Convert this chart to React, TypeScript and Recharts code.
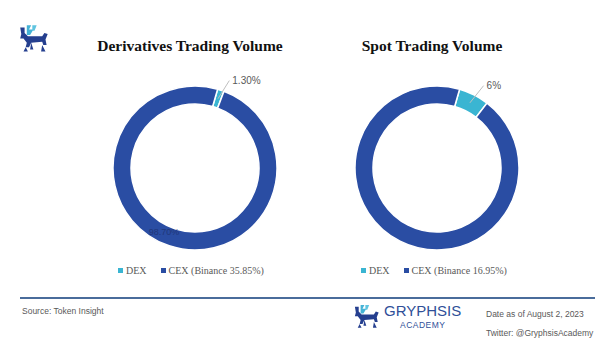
import { PieChart, Pie, Cell } from "recharts";

const CEX_BLUE = "#2a4da3";
const DEX_CYAN = "#3ab5d2";
const TEXT_GRAY = "#595959";

const sliceNames = ["DEX", "CEX"];
const derivativesShares = [1.3, 98.7];
const spotShares = [6, 94];
const derivativesLabels = ["1.30%", "98.70%"];
const spotLabels = ["6%", ""];
const chartTitles = ["Derivatives Trading Volume", "Spot Trading Volume"];
const cexLegendText = ["CEX (Binance 35.85%)", "CEX (Binance 16.95%)"];

const RADIAN = Math.PI / 180;

function toRows(values: number[], labels: string[]) {
  return values.map((v, i) => ({ name: sliceNames[i], value: v, label: labels[i] }));
}

function renderLabel(props: any) {
  const { cx, cy, midAngle, innerRadius, outerRadius, index, payload } = props;
  if (!payload.label) return null;
  const mid = (innerRadius + outerRadius) / 2;
  const cos = Math.cos(-midAngle * RADIAN);
  const sin = Math.sin(-midAngle * RADIAN);
  if (index === 1) {
    // barely visible label sitting on the dark ring
    return (
      <text x={cx + mid * cos - 8} y={cy + mid * sin - 5} fill="#1f3270" fontSize={9} fontFamily="Liberation Sans, Arial" textAnchor="middle" dominantBaseline="central" opacity={0.8}>
        {payload.label}
      </text>
    );
  }
  const sx = cx + mid * cos;
  const sy = cy + mid * sin;
  const ex = cx + (outerRadius + 8) * cos + 6;
  const ey = cy + (outerRadius + 8) * sin - 2;
  return (
    <g>
      <path d={`M${sx},${sy}L${ex},${ey}`} stroke="#bfbfbf" strokeWidth={1} fill="none" />
      <text x={ex + 3} y={ey} fill={TEXT_GRAY} fontSize={10} fontFamily="Liberation Sans, Arial" dominantBaseline="central">
        {payload.label}
      </text>
    </g>
  );
}

function Logo({ x, y, s }: { x: number; y: number; s: number }) {
  return (
    <svg style={{ position: "absolute", left: x, top: y }} width={30 * s} height={28 * s} viewBox="0 0 30 28">
      <path d="M8 2 L12 2 L10 6 L14 6 L11 11 L8 11 Z" fill="#45b3d6" />
      <path d="M13 2 L17 2 L15 7 L13 7 Z" fill="#5fc4e0" />
      <path d="M2 4 L6 4 L6 9 L9 12 L22 12 L24 9 L27 10 L25 15 L26 20 L23 20 L22 17 L12 18 L10 22 L7 22 L8 18 L5 14 L2 14 L3 10 Z" fill="#253f8f" />
      <path d="M7 22 L9 26 L5 26 Z M22 20 L25 26 L21 26 Z M12 18 L14 24 L11 24 Z" fill="#253f8f" />
    </svg>
  );
}

function Legend({ left, index }: { left: number; index: number }) {
  const item = (color: string, text: string) => (
    <span style={{ display: "inline-flex", alignItems: "center", marginRight: 14 }}>
      <span style={{ width: 5, height: 5, background: color, marginRight: 3 }} />
      {text}
    </span>
  );
  return (
    <div style={{ position: "absolute", left, top: 264, fontFamily: "Liberation Serif, serif", fontSize: 10, color: TEXT_GRAY, whiteSpace: "nowrap" }}>
      {item(DEX_CYAN, "DEX")}
      {item(CEX_BLUE, cexLegendText[index])}
    </div>
  );
}

export default function App() {
  const pies = [
    { data: toRows(derivativesShares, derivativesLabels), cx: 190 },
    { data: toRows(spotShares, spotLabels), cx: 432 },
  ];
  return (
    <div style={{ position: "fixed", left: 0, top: 0, width: 600, height: 360, background: "#fff", overflow: "hidden" }}>
      <Logo x={18} y={23} s={1.1} />
      {chartTitles.map((t, i) => (
        <div key={t} style={{ position: "absolute", left: pies[i].cx - 150, width: 300, top: 37, textAlign: "center", fontFamily: "Liberation Serif, serif", fontWeight: "bold", fontSize: 15.5, color: "#111" }}>
          {t}
        </div>
      ))}
      <div style={{ position: "absolute", left: 0, top: 0 }}>
        <PieChart width={600} height={360}>
          {pies.map((p, i) => (
            <Pie
              key={i}
              data={p.data}
              dataKey="value"
              cx={p.cx}
              cy={163}
              innerRadius={64}
              outerRadius={82}
              startAngle={74}
              endAngle={-286}
              stroke="#fff"
              strokeWidth={1.5}
              label={renderLabel}
              labelLine={false}
              isAnimationActive={false}
            >
              {p.data.map((d) => (
                <Cell key={d.name} fill={d.name === "DEX" ? DEX_CYAN : CEX_BLUE} />
              ))}
            </Pie>
          ))}
        </PieChart>
      </div>
      <Legend left={118} index={0} />
      <Legend left={361} index={1} />
      <div style={{ position: "absolute", left: 20, top: 297, width: 575, height: 2, background: "#4a6c9b" }} />
      <div style={{ position: "absolute", left: 22, top: 306, fontFamily: "Liberation Sans, Arial", fontSize: 8.5, color: TEXT_GRAY }}>
        Source: Token Insight
      </div>
      <Logo x={353} y={303} s={0.95} />
      <div style={{ position: "absolute", left: 384, top: 302, fontFamily: "Liberation Sans, Arial", fontSize: 15, color: "#2f4f98" }}>
        GRYPHSIS
      </div>
      <div style={{ position: "absolute", left: 400, top: 320, fontFamily: "Liberation Sans, Arial", fontSize: 8.5, color: "#2f4f98", letterSpacing: 0.5 }}>
        ACADEMY
      </div>
      <div style={{ position: "absolute", left: 486, top: 305, fontFamily: "Liberation Sans, Arial", fontSize: 8.5, color: TEXT_GRAY, lineHeight: "19px" }}>
        Date as of August 2, 2023
        <br />
        Twitter: @GryphsisAcademy
      </div>
    </div>
  );
}
